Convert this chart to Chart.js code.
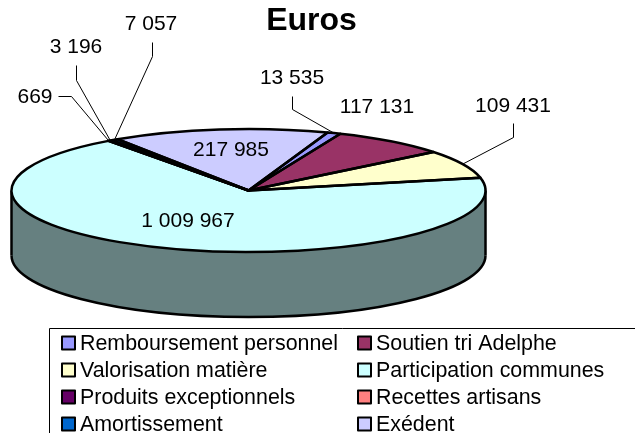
<!DOCTYPE html>
<html><head><meta charset="utf-8">
<style>html,body{margin:0;padding:0;background:#fff;overflow:hidden}#w{width:635px;height:433px;position:relative}</style>
<script src="https://cdn.jsdelivr.net/npm/chart.js@4"></script>
</head><body><div id="w"><canvas id="c" width="635" height="433"></canvas></div>
<script>
const titleText = 'Euros';
const categories = ['Remboursement personnel','Soutien tri Adelphe','Valorisation matière','Participation communes','Produits exceptionnels','Recettes artisans','Amortissement','Exédent'];
const values = [13535,117131,109431,1009967,669,3196,7057,217985];
const sliceColors = ['#9999FF','#993366','#FFFFCC','#CCFFFF','#660066','#FF8080','#0066CC','#CCCCFF'];
const sideColors = ['#4D4D80','#4D1A33','#808066','#668080','#330033','#804040','#003366','#666680'];
// label centre [x,y] and optional leader elbow points for each slice
const labelPlaces = [[292,78],[377,107],[513,106],[188,221],[35,97],[76,47],[151,24],[231,150]];
const leaderElbows = [[[292,96],[292,109]],null,[[513,123],[513,137]],null,[[58,96],[71,96]],[[76,65],[76,80]],[[152,42],[152,56]],null];
const squash = 0.2595, depth = 65, pieRadius = 237;
const FONT = '"Liberation Sans", Arial, sans-serif';
const fmt = v => String(v).replace(/\B(?=(\d{3})+$)/g,' ');

const pie3d = {
  id:'pie3d',
  beforeDatasetsDraw(chart){
    const ctx = chart.ctx, arcs = chart.getDatasetMeta(0).data;
    const cx = arcs[0].x, cy = arcs[0].y, R = arcs[0].outerRadius, Ry = R*squash;
    // side wall
    arcs.forEach((a,i)=>{
      [0,2*Math.PI,-2*Math.PI].forEach(shift=>{
        const s = Math.max(a.startAngle+shift,0), e = Math.min(a.endAngle+shift,Math.PI);
        if(e<=s) return;
        ctx.beginPath();
        ctx.ellipse(cx,cy,R,Ry,0,s,e);
        ctx.ellipse(cx,cy+depth,R,Ry,0,e,s,true);
        ctx.closePath();
        ctx.fillStyle = sideColors[i]; ctx.fill();
      });
    });
    ctx.lineWidth = 2.5; ctx.strokeStyle = '#000';
    ctx.beginPath(); ctx.ellipse(cx,cy+depth,R,Ry,0,0,Math.PI); ctx.stroke();
    ctx.beginPath(); ctx.moveTo(cx-R,cy); ctx.lineTo(cx-R,cy+depth); ctx.moveTo(cx+R,cy); ctx.lineTo(cx+R,cy+depth); ctx.stroke();
    // squash the arcs drawn by the library
    ctx.save();
    ctx.translate(cx,cy); ctx.scale(1,squash); ctx.translate(-cx,-cy);
  },
  afterDatasetsDraw(chart){
    const ctx = chart.ctx, arcs = chart.getDatasetMeta(0).data;
    ctx.restore();
    const cx = arcs[0].x, cy = arcs[0].y, R = arcs[0].outerRadius, Ry = R*squash;
    ctx.save();
    ctx.strokeStyle='#000'; ctx.lineWidth=2.5; ctx.lineJoin='round';
    arcs.forEach(a=>{
      ctx.beginPath(); ctx.moveTo(cx,cy);
      ctx.ellipse(cx,cy,R,Ry,0,a.startAngle,a.endAngle);
      ctx.closePath(); ctx.stroke();
    });
    // leaders
    ctx.lineWidth=1; ctx.strokeStyle='#000';
    arcs.forEach((a,i)=>{
      const el = leaderElbows[i]; if(!el) return;
      const m=(a.startAngle+a.endAngle)/2;
      ctx.beginPath(); ctx.moveTo(el[0][0]+.5,el[0][1]+.5);
      for(let k=1;k<el.length;k++) ctx.lineTo(el[k][0]+.5,el[k][1]+.5);
      ctx.lineTo(cx+R*Math.cos(m),cy+Ry*Math.sin(m)); ctx.stroke();
    });
    // value labels
    ctx.fillStyle='#000'; ctx.font='21px '+FONT; ctx.textAlign='center'; ctx.textBaseline='middle';
    values.forEach((v,i)=>ctx.fillText(fmt(v),labelPlaces[i][0],labelPlaces[i][1]));
    // title
    ctx.font='bold 32px '+FONT; ctx.textBaseline='alphabetic';
    ctx.fillText(titleText,311.5,30);
    // legend
    ctx.textAlign='left'; ctx.textBaseline='middle'; ctx.font='21.4px '+FONT;
    ctx.lineWidth=1; ctx.strokeRect(49.5,328.5,700,200);
    categories.forEach((c,i)=>{
      const col=i%2, row=Math.floor(i/2);
      const x=col?358:62, y=343+row*27;
      ctx.fillStyle=sliceColors[i]; ctx.fillRect(x,y-6.5,13,13);
      ctx.strokeStyle='#000'; ctx.lineWidth=2; ctx.strokeRect(x,y-6.5,13,13);
      ctx.fillStyle='#000'; ctx.fillText(c,x+18,y+1);
    });
    ctx.restore();
  }
};
new Chart(document.getElementById('c'),{
  type:'pie',
  data:{labels:categories,datasets:[{data:values,backgroundColor:sliceColors,borderWidth:0,clip:false}]},
  options:{
    responsive:false,animation:false,radius:pieRadius,rotation:19.5,
    layout:{padding:{left:0,right:138,top:0,bottom:52}},
    plugins:{legend:{display:false},title:{display:false},tooltip:{enabled:false}}
  },
  plugins:[pie3d]
});
</script></body></html>
